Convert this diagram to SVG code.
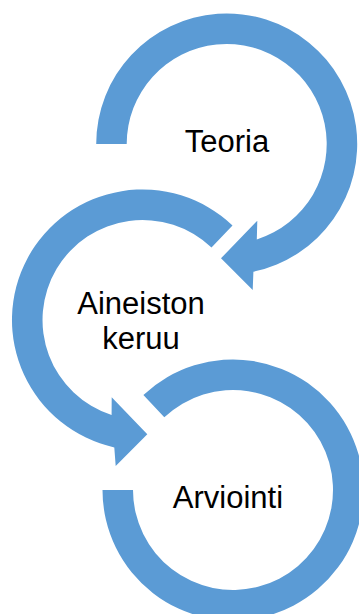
<svg xmlns="http://www.w3.org/2000/svg" width="359" height="614" viewBox="0 0 359 614">
  <style>
    .arc { fill: #5B9BD5; stroke: none; }
    .lbl { font-family: "Liberation Sans", Arial, sans-serif; font-size: 31px; fill: #000000; text-anchor: middle; }
  </style>
  <rect width="359" height="614" fill="#FFFFFF"/>
  <g id="node-teoria">
    <path class="arc" d="M96.2,144 A130.5,130.5 0 1 1 253.4,271.7 L252.7,290 L221,258.3 L257.3,220.7 L256.8,239.4 A100,100 0 1 0 126.7,144 Z"/>
    <text class="lbl" x="227" y="152">Teoria</text>
  </g>
  <g id="node-aineiston-keruu">
    <path class="arc" d="M232.5,225.5 A130.5,130.5 0 1 0 114.3,447.4 L115.7,466 L147.3,434.3 L111.7,397.3 L111.6,415.1 A100,100 0 1 1 211.5,247.6 Z"/>
    <text class="lbl" x="141" y="314">Aineiston</text>
    <text class="lbl" x="141" y="349">keruu</text>
  </g>
  <g id="node-arviointi">
    <path class="arc" d="M143.4,395.1 A130.5,130.5 0 1 1 102.5,490 L133,490 A100,100 0 1 0 164.3,417.3 Z"/>
    <text class="lbl" x="228" y="508">Arviointi</text>
  </g>
  <g id="connectors"></g>
</svg>
